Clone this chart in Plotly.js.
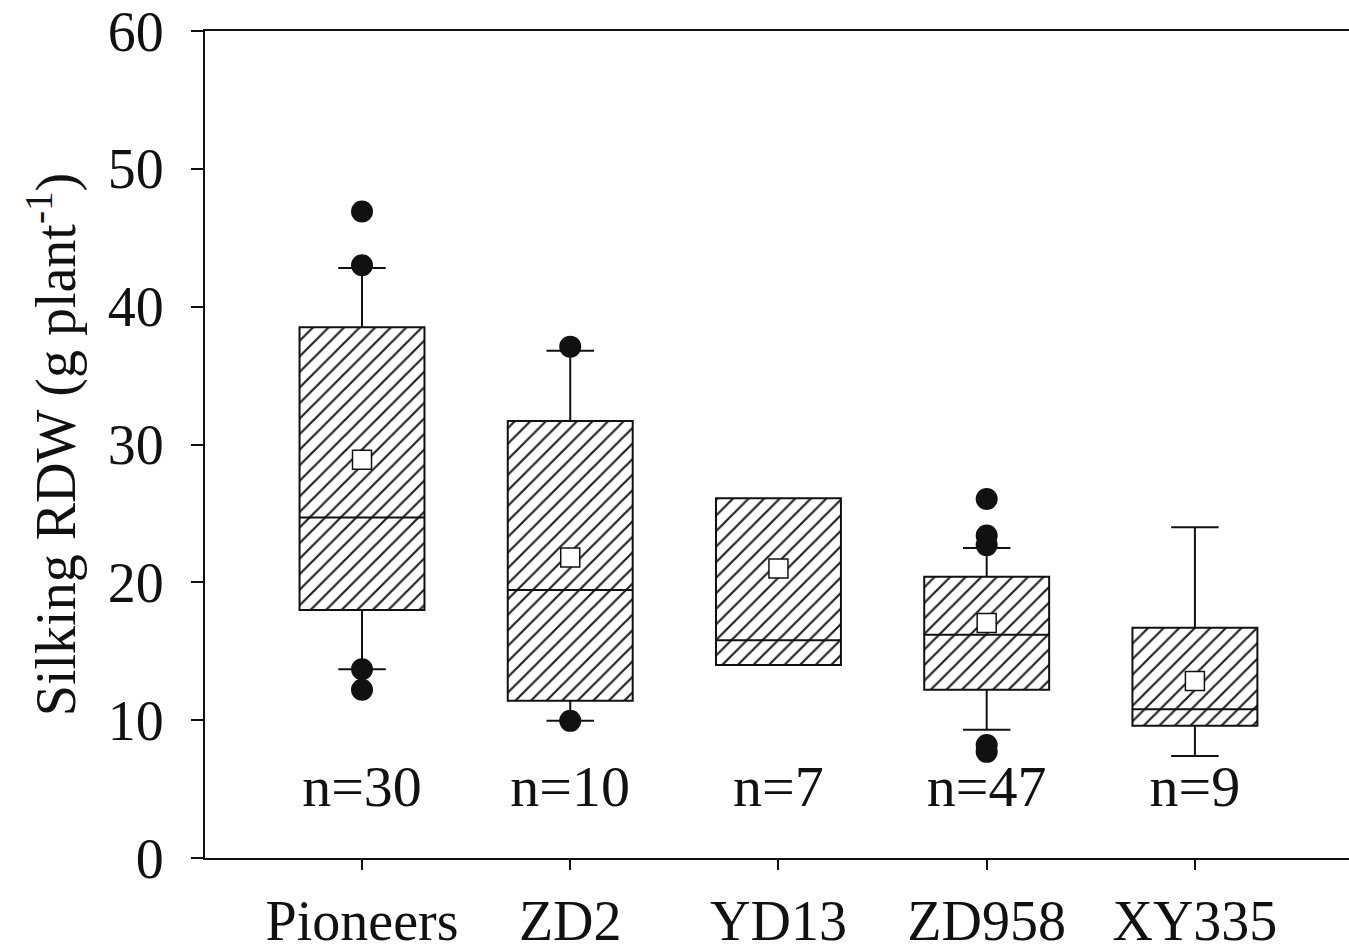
<!DOCTYPE html>
<html>
<head>
<meta charset="utf-8">
<script src="https://cdn.plot.ly/plotly-3.0.1.min.js"></script>
<style>html,body{margin:0;padding:0;background:#fff;}#chart{width:1349px;height:947px;}</style>
</head>
<body>
<div id="chart"></div>
<script>
const categories = ["Pioneers", "ZD2", "YD13", "ZD958", "XY335"];
const q1 = [18.0, 11.4, 14.0, 12.2, 9.6];
const medians = [24.7, 19.45, 15.8, 16.2, 10.8];
const q3 = [38.5, 31.7, 26.1, 20.4, 16.7];
const lowerWhisker = [13.7, 9.95, 14.0, 9.3, 7.4];
const upperWhisker = [42.8, 36.8, 26.1, 22.5, 24.0];
const means = [28.9, 21.8, 21.0, 17.05, 12.85];
const nLabels = ["n=30", "n=10", "n=7", "n=47", "n=9"];
const outlierCats = ["Pioneers", "Pioneers", "Pioneers", "Pioneers", "ZD2", "ZD2", "ZD958", "ZD958", "ZD958", "ZD958", "ZD958"];
const outlierVals = [46.9, 43.0, 13.7, 12.2, 37.1, 9.95, 26.05, 23.4, 22.7, 8.2, 7.7];
const nLabelY = [4.8, 4.8, 4.8, 4.8, 4.8];

const FONT = "'Liberation Serif', 'Times New Roman', serif";

const boxHeights = q3.map((v, i) => v - q1[i]);

const traces = [
  {
    type: "bar", x: categories, y: boxHeights, base: q1, width: 0.6,
    marker: {color: "white", line: {width: 0},
      pattern: {shape: "/", fgcolor: "#222", bgcolor: "white", size: 11, solidity: 0.2}},
    hoverinfo: "skip", showlegend: false
  },
  {
    type: "box", x: categories, q1: q1, median: medians, q3: q3,
    lowerfence: lowerWhisker, upperfence: upperWhisker,
    width: 0.6, whiskerwidth: 0.38, boxpoints: false,
    fillcolor: "rgba(0,0,0,0)", line: {color: "#111", width: 2},
    showlegend: false
  },
  {
    type: "scatter", mode: "markers", x: outlierCats, y: outlierVals,
    marker: {symbol: "circle", size: 22, color: "#111"}, showlegend: false
  },
  {
    type: "scatter", mode: "markers", x: categories, y: means,
    marker: {symbol: "square", size: 19, color: "white", line: {color: "#111", width: 1.5}},
    showlegend: false
  },
  {
    type: "scatter", mode: "text", x: categories, y: nLabelY, text: nLabels,
    textposition: "middle center", textfont: {family: FONT, size: 58, color: "#111"},
    showlegend: false
  }
];

const layout = {
  width: 1349, height: 947,
  margin: {l: 205, r: 0, t: 31, b: 89},
  paper_bgcolor: "white", plot_bgcolor: "white",
  showlegend: false,
  font: {family: FONT, color: "#111"},
  xaxis: {
    type: "category", range: [-0.754, 4.74],
    showline: true, linecolor: "#111", linewidth: 2, mirror: true,
    ticks: "outside", ticklen: 10, tickwidth: 2, tickcolor: "#111",
    showgrid: false, zeroline: false,
    tickfont: {family: FONT, size: 56, color: "#111"},
    ticklabelstandoff: 3
  },
  yaxis: {
    range: [0, 60], tickvals: [0, 10, 20, 30, 40, 50, 60],
    showline: true, linecolor: "#111", linewidth: 2,
    ticks: "outside", ticklen: 12, tickwidth: 2, tickcolor: "#111",
    showgrid: false, zeroline: false,
    tickfont: {family: FONT, size: 56, color: "#111"},
    ticklabelstandoff: 16,
    title: {text: "Silking RDW (g plant<sup>-1</sup>)", font: {family: FONT, size: 56, color: "#111"}, standoff: 14}
  },
  bargap: 0
};

Plotly.newPlot("chart", traces, layout, {displayModeBar: false, staticPlot: true});
</script>
</body>
</html>
